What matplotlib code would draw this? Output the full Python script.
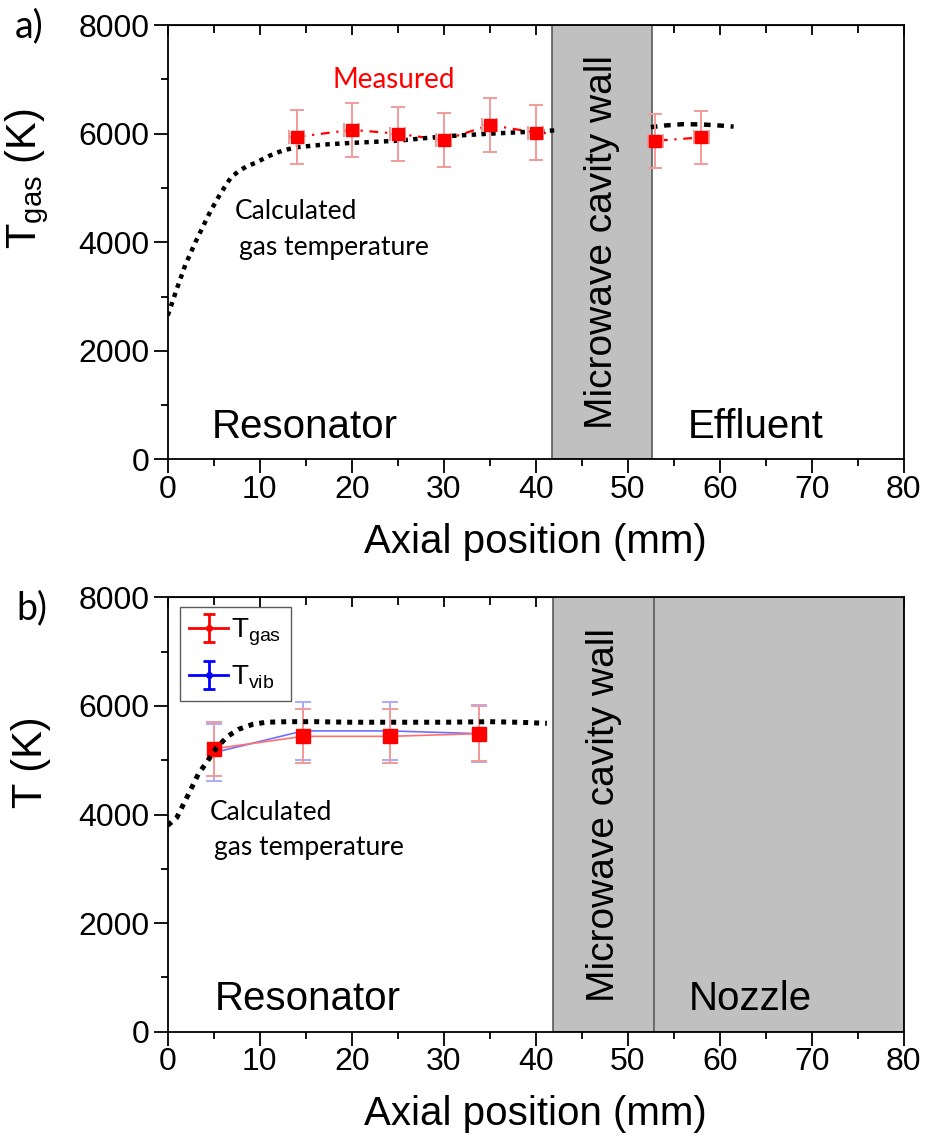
import numpy as np
import matplotlib
matplotlib.use("Agg")
import matplotlib.pyplot as plt

plt.rcParams['font.family'] = ['Liberation Sans', 'DejaVu Sans']
plt.rcParams['mathtext.default'] = 'regular'

# (a) measured gas temperature along the plasma axis
meas_a_x = [14, 20, 25, 30, 35, 40, 53, 58]
meas_a_y = [5940, 6070, 6000, 5880, 6160, 6020, 5870, 5930]
meas_a_err = [500, 500, 500, 500, 500, 500, 500, 480]

# (a) calculated gas temperature, resonator part and effluent part
calc_a_x = [0, 0.5, 1, 1.9, 3, 4, 4.6, 5.5, 6.3, 6.9, 7.8, 8.6, 9.5, 11, 12.5, 14,
            17, 20, 25, 30, 35, 40, 42]
calc_a_y = [2650, 2900, 3150, 3580, 4000, 4350, 4560, 4830, 5050, 5200, 5320, 5400,
            5460, 5590, 5690, 5750, 5800, 5830, 5870, 5950, 6000, 6040, 6060]
calc_a2_x = [52.5, 54, 56, 58, 60, 61.5]
calc_a2_y = [6120, 6150, 6175, 6170, 6150, 6130]

# (b) gas and vibrational temperatures
pos_b = [5, 14.7, 24.2, 33.8]
tgas_b = [5210, 5440, 5440, 5490]
tgas_err = [500, 500, 500, 500]
tvib_b = [5140, 5540, 5540, 5490]
tvib_err = [530, 530, 530, 530]

calc_b_x = [0, 1, 2.5, 3.3, 4.3, 5.3, 6.5, 7.7, 9.2, 10.7, 13, 16, 20, 25, 30, 35, 38, 41.2]
calc_b_y = [3800, 3950, 4460, 4740, 4980, 5230, 5440, 5570, 5660, 5700, 5710, 5710,
            5700, 5700, 5700, 5710, 5700, 5680]

wall = (41.8, 52.6)
GRAY = '#c0c0c0'
EDGE = '#5a5a5a'
ANNOT = ['Lato', 'DejaVu Sans']

fig = plt.figure(figsize=(9.27, 11.4), dpi=100)
ax1 = fig.add_axes([0.181, 0.597, 0.794, 0.381])
ax2 = fig.add_axes([0.181, 0.095, 0.794, 0.381])


def style_axes(ax):
    ax.set_xlim(0, 80)
    ax.set_ylim(0, 8000)
    ax.set_xticks(np.arange(0, 81, 10))
    ax.set_xticks(np.arange(5, 80, 10), minor=True)
    ax.set_yticks(np.arange(0, 8001, 2000))
    ax.set_yticks(np.arange(1000, 8000, 2000), minor=True)
    ax.tick_params(which='major', direction='out', length=10, width=1.3, labelsize=23)
    ax.tick_params(axis='x', which='major', pad=1)
    ax.tick_params(axis='y', which='major', pad=3)
    ax.tick_params(which='minor', direction='out', length=5, width=1.3)
    for s in ax.spines.values():
        s.set_linewidth(1.3)
    top = ax.secondary_xaxis('top')
    top.set_xticks(np.arange(0, 81, 10))
    top.set_xticks(np.arange(5, 80, 10), minor=True)
    top.tick_params(which='both', direction='in', length=7, width=1.3, labeltop=False)
    top.tick_params(which='minor', length=6)
    ax.set_xlabel('Axial position (mm)', fontsize=29, labelpad=13)


# ---------- panel a ----------
style_axes(ax1)
ax1.plot(meas_a_x, meas_a_y, color='red', lw=1.6, ls=(0, (4, 3, 1, 3)), zorder=1)
ax1.axvspan(*wall, facecolor=GRAY, edgecolor=EDGE, lw=1.2, zorder=2)
ax1.plot(calc_a_x, calc_a_y, color='black', lw=3.2, ls=(0, (1, 1.2)), zorder=3)
ax1.plot(calc_a2_x, calc_a2_y, color='black', lw=3.2, ls=(0, (1.5, 1.5)), zorder=3)
ax1.errorbar(meas_a_x, meas_a_y, yerr=meas_a_err, xerr=0.8, fmt='s', color='red',
             ms=9, ecolor='#f29a9a', elinewidth=1.4, capsize=5, capthick=1.4, zorder=4)
ax1.text(24.6, 6980, 'Measured', color='red', fontsize=20, ha='center', va='center',
         family=ANNOT)
ax1.text(7.3, 4560, 'Calculated', fontsize=19, ha='left', va='center', family=ANNOT)
ax1.text(7.7, 3900, 'gas temperature', fontsize=19, ha='left', va='center', family=ANNOT)
ax1.text(47.2, 4000, 'Microwave cavity wall', rotation=90, fontsize=28,
         ha='center', va='center', zorder=5)
ax1.text(4.75, 387, 'Resonator', fontsize=29, ha='left', va='baseline')
ax1.text(56.5, 387, 'Effluent', fontsize=29, ha='left', va='baseline')
ax1.set_ylabel('T$_{gas}$ (K)', fontsize=30)
ax1.yaxis.set_label_coords(-0.158, 0.647)

# ---------- panel b ----------
style_axes(ax2)
ax2.axvspan(41.9, 80, facecolor=GRAY, edgecolor=EDGE, lw=1.2, zorder=1)
ax2.axvline(52.8, color=EDGE, lw=1.2, zorder=1)
ax2.errorbar(pos_b, tvib_b, yerr=tvib_err, fmt='o-', color='#6f6fff', ms=3,
             mfc='blue', mec='blue', lw=1.2, ecolor='#a9a9ff', elinewidth=1.4,
             capsize=6, capthick=1.4, zorder=3)
ax2.errorbar(pos_b, tgas_b, yerr=tgas_err, fmt='s-', color='#ff7070', ms=10,
             mfc='red', mec='red', lw=1.2, ecolor='#f29a9a', elinewidth=1.4,
             capsize=6, capthick=1.4, zorder=4)
ax2.plot(calc_b_x, calc_b_y, color='black', lw=3.6, ls=(0, (1, 1.2)), zorder=5)
ax2.text(4.6, 4030, 'Calculated', fontsize=19, ha='left', va='center', family=ANNOT)
ax2.text(5.0, 3400, 'gas temperature', fontsize=19, ha='left', va='center', family=ANNOT)
ax2.text(47.4, 4000, 'Microwave cavity wall', rotation=90, fontsize=28,
         ha='center', va='center', zorder=5)
ax2.text(5.1, 405, 'Resonator', fontsize=29, ha='left', va='baseline')
ax2.text(56.6, 405, 'Nozzle', fontsize=29, ha='left', va='baseline')
ax2.set_ylabel('T (K)', fontsize=30)
ax2.yaxis.set_label_coords(-0.158, 0.62)

# legend proxies with small round markers
h_gas = ax2.errorbar([np.nan], [np.nan], yerr=[1], fmt='o-', color='red', ms=4,
                     lw=2, elinewidth=2, capsize=4, capthick=2)
h_vib = ax2.errorbar([np.nan], [np.nan], yerr=[1], fmt='o-', color='blue', ms=4,
                     lw=2, elinewidth=2, capsize=4, capthick=2)
leg = ax2.legend([h_gas, h_vib], ['T$_{gas}$', 'T$_{vib}$'], loc='upper left',
                 bbox_to_anchor=(0.016, 0.977), fontsize=20, frameon=True,
                 fancybox=False, edgecolor='#333333', handlelength=1.4,
                 handletextpad=0.1, borderpad=0.35, labelspacing=0.55,
                 borderaxespad=0)
leg.get_frame().set_linewidth(1.0)

fig.text(0.016, 0.993, 'a)', fontsize=27, ha='left', va='top', family=ANNOT)
fig.text(0.018, 0.482, 'b)', fontsize=27, ha='left', va='top', family=ANNOT)

fig.savefig('out.png', dpi=100, facecolor='white')
